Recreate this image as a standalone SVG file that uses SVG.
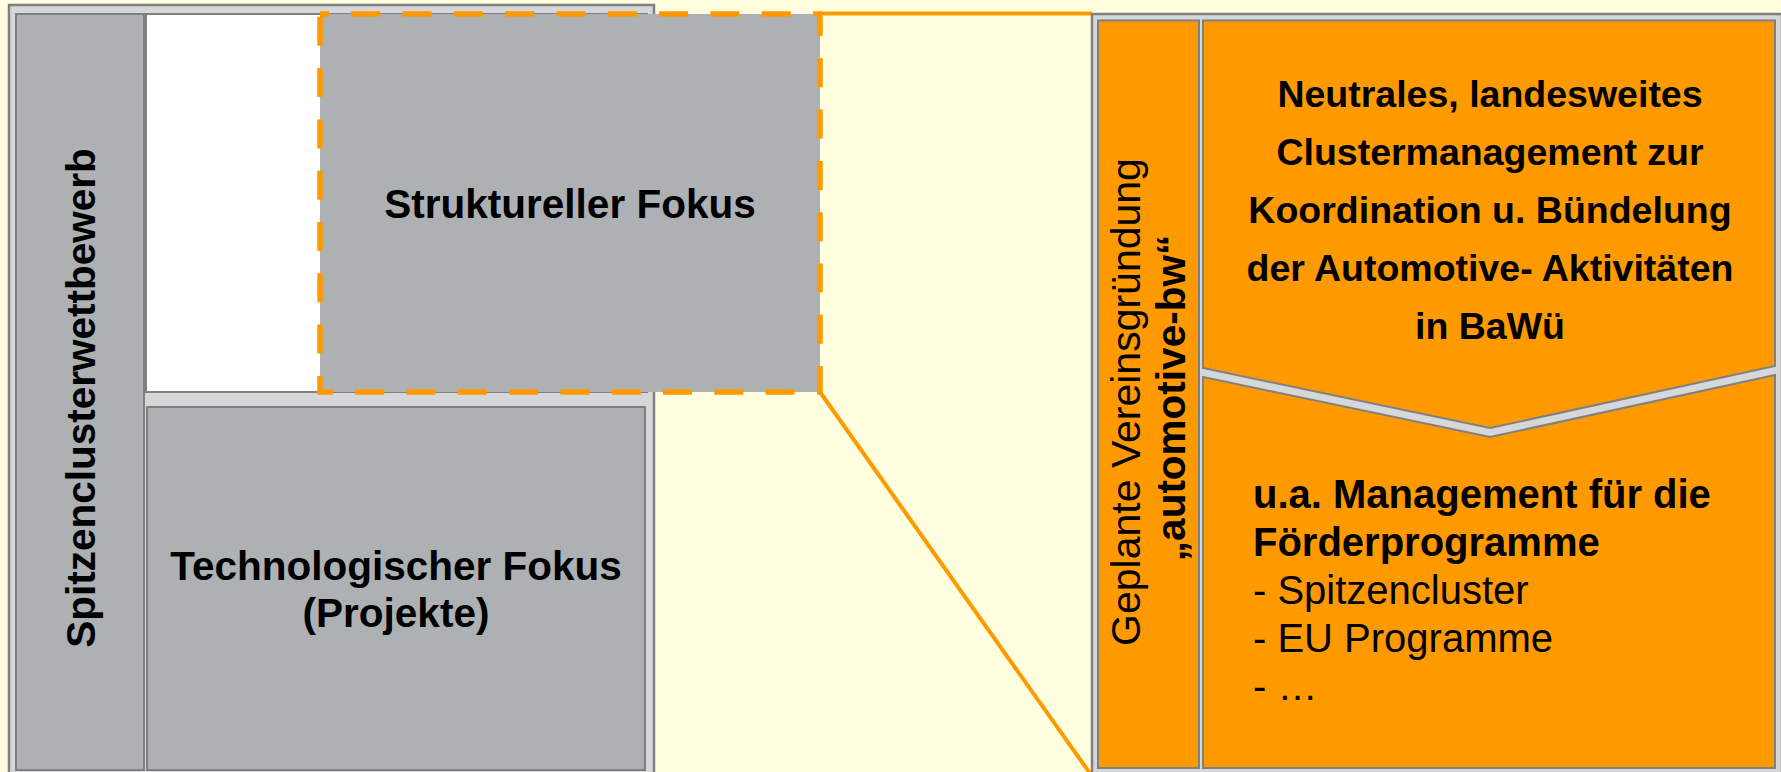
<svg xmlns="http://www.w3.org/2000/svg" width="1781" height="772" viewBox="0 0 1781 772">
<style>
.frame{fill:#D6D7D8;stroke:#808080;stroke-width:2.5}
.gbox{fill:#AEB1B4;stroke:#808080;stroke-width:2}
.obox{fill:#FF9900;stroke:#808080;stroke-width:2}
.wbox{fill:#FFFFFF;stroke:#808080;stroke-width:2}
.conn{stroke:#FF9900;stroke-width:4;fill:none}
text{font-family:"Liberation Sans",Arial,Helvetica,sans-serif;fill:#000}
.b{font-weight:bold}
.lbl{font-size:40.5px;font-weight:bold;text-anchor:middle}
.ot{font-size:37.5px;font-weight:bold;text-anchor:middle}
.lt{font-size:40px}
</style>
<rect x="0" y="0" width="1781" height="772" fill="#FFFFE0"/>
<g id="left-frame">
<rect class="frame" x="9" y="5" width="645" height="780"/>
</g>
<g id="spitzencluster">
<rect class="gbox" x="16" y="14" width="128" height="756"/>
<text class="lbl" font-size="39.8" transform="translate(95,398) rotate(-90)">Spitzenclusterwettbewerb</text>
</g>
<g id="empty-area">
<rect class="wbox" x="146" y="14" width="501" height="378"/>
</g>
<g id="technologischer-fokus">
<rect class="gbox" x="147" y="407" width="498" height="363"/>
<text class="lbl" x="396" y="580">Technologischer Fokus</text>
<text class="lbl" x="396" y="627">(Projekte)</text>
</g>
<g id="struktureller-fokus">
<rect x="320" y="14" width="500" height="378" fill="#AEB1B4"/>
<path d="M320,14 H820 V392 H320 Z" fill="none" stroke="#FF9900" stroke-width="5.5" stroke-dasharray="29 22.3" stroke-dashoffset="20"/>
<text class="lbl" x="570" y="218">Struktureller Fokus</text>
</g>
<g id="connectors">
<line class="conn" x1="820" y1="13.5" x2="1092" y2="13.5"/>
<line class="conn" x1="820" y1="392" x2="1091.5" y2="775.5"/>
</g>
<g id="right-frame">
<rect class="frame" x="1092" y="14" width="690" height="770"/>
</g>
<g id="verein">
<rect class="obox" x="1098" y="20.5" width="101" height="747.5"/>
<text font-size="41" text-anchor="middle" transform="translate(1140,402) rotate(-90)">Geplante Vereinsgründung</text>
<text class="lbl" transform="translate(1185,398) rotate(-90)">„automotive-bw“</text>
</g>
<g id="clustermanagement">
<polygon class="obox" points="1203,20.5 1775,20.5 1775,366 1490,428 1203,368"/>
<text class="ot" x="1490" y="107">Neutrales, landesweites</text>
<text class="ot" x="1490" y="165">Clustermanagement zur</text>
<text class="ot" x="1490" y="223">Koordination u. Bündelung</text>
<text class="ot" x="1490" y="281">der Automotive- Aktivitäten</text>
<text class="ot" x="1490" y="339">in BaWü</text>
</g>
<g id="foerderprogramme">
<polygon class="obox" points="1203,377 1490,437 1775,375 1775,768 1203,768"/>
<text class="lt b" x="1253" y="508">u.a. Management für die</text>
<text class="lt b" x="1253" y="556">Förderprogramme</text>
<text class="lt" x="1253" y="604">- Spitzencluster</text>
<text class="lt" x="1253" y="652">- EU Programme</text>
<text class="lt" x="1253" y="700">- …</text>
</g>
</svg>
